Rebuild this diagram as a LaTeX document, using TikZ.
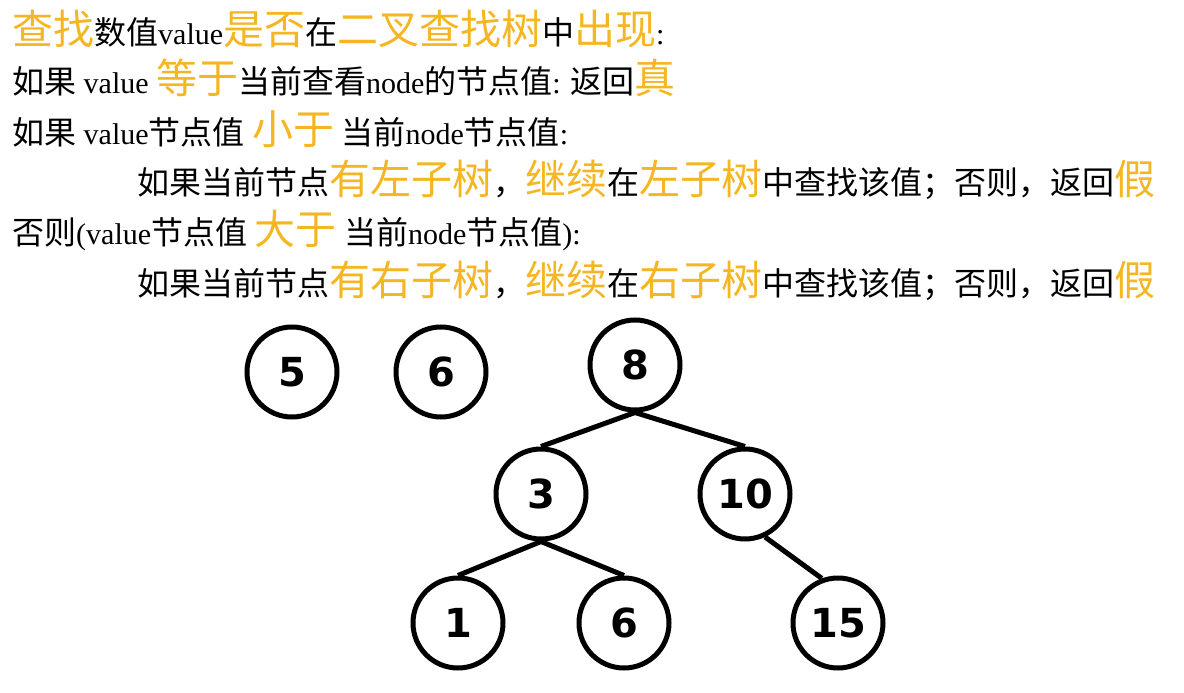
\documentclass[tikz,border=0pt]{standalone}
\usepackage{fontspec}
\setmainfont{Liberation Serif}
\newfontfamily\cjk{Noto Sans CJK SC}
\newfontfamily\numfont{DejaVu Sans}
\definecolor{keyorange}{RGB}{245,182,35}
\newcommand{\zh}[1]{{\cjk\fontsize{32}{40}\selectfont #1}}
\newcommand{\kw}[1]{{\cjk\color{keyorange}\fontsize{41}{48}\selectfont #1}}

\begin{document}
\begin{tikzpicture}[x=1pt, y=-1pt,
textline/.style={anchor=base west, inner sep=0pt, font=\fontsize{30}{40}\selectfont},
treenode/.style={circle, draw=black, line width=5pt, minimum size=90pt, inner sep=0pt, font=\numfont\bfseries\fontsize{40}{40}\selectfont},
level 1/.style={sibling distance=204pt, level distance=129pt},
level 2/.style={sibling distance=166pt, level distance=129pt},
edge from parent/.style={draw, line width=5pt},
parent anchor=south, child anchor=north
]
\useasboundingbox (0,0) rectangle (1184,693);

% rules
\node[textline] (title) at (12,45) {\kw{查找}\zh{数值}value\kw{是否}\zh{在}\kw{二叉查找树}\zh{中}\kw{出现}:};
\node[textline] (caseeq) at (12,93) {\zh{如果} value \kw{等于}\zh{当前查看}node\zh{的节点值}: \zh{返回}\kw{真}};
\node[textline] (caselt) at (12,144) {\zh{如果} value\zh{节点值} \kw{小于} \zh{当前}node\zh{节点值}:};
\node[textline] (ltbranch) at (137,194) {\zh{如果当前节点}\kw{有左子树}\zh{，}\kw{继续}\zh{在}\kw{左子树}\zh{中查找该值；否则，返回}\kw{假}};
\node[textline] (casegt) at (12,244) {\zh{否则}(value\zh{节点值} \kw{大于} \zh{当前}node\zh{节点值}):};
\node[textline] (gtbranch) at (137,295) {\zh{如果当前节点}\kw{有右子树}\zh{，}\kw{继续}\zh{在}\kw{右子树}\zh{中查找该值；否则，返回}\kw{假}};

% values to look up
\node[treenode] (v5) at (292,372) {5};
\node[treenode] (v6) at (441,372) {6};

% the tree
\node[treenode] (n8) at (635,365) {8}
	child[xshift=8pt] {node [treenode] (n3) {3}
		child { node [treenode] (n1) {1} }
		child { node [treenode] (n6) {6} }
	}
	child[xshift=8pt] {node [treenode] (n10) {10}
		child[missing] {}
		child[xshift=10pt, parent anchor=-65, child anchor=110] { node [treenode] (n15) {15} }
	};
\end{tikzpicture}
\end{document}
